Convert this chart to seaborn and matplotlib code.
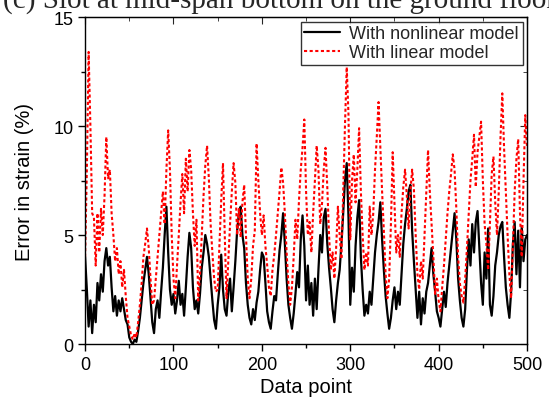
import numpy as np
import pandas as pd
import matplotlib
matplotlib.use("Agg")
import matplotlib.pyplot as plt
import seaborn as sns
from matplotlib.ticker import MultipleLocator

data_point = list(range(0, 501, 2))

nonlinear = [
    4.0, 2.5, 0.8, 2.0, 0.5, 1.8, 1.0, 2.8, 2.0, 3.2, 2.4, 3.8, 4.4, 3.6, 4.0, 2.6, 1.5, 2.2, 1.3, 2.0, 1.5, 2.1, 1.6, 1.1, 0.9,
    0.3, 0.1, 0.0, 0.2, 0.1, 0.6, 1.2, 2.0, 2.8, 3.4, 4.0, 3.2, 2.1, 1.0, 0.5, 1.6, 2.0, 1.2, 2.4, 3.5, 5.0, 6.3, 4.2, 2.5, 1.8,
    2.3, 1.4, 2.0, 2.9, 1.8, 2.3, 1.3, 2.6, 4.0, 5.1, 4.4, 2.6, 1.6, 2.0, 1.4, 2.3, 3.5, 4.2, 5.0, 4.6, 4.0, 3.0, 2.0, 1.1, 0.7,
    1.8, 2.6, 4.1, 2.5, 1.6, 1.3, 2.4, 3.0, 1.5, 2.6, 3.8, 5.2, 6.0, 6.3, 5.0, 4.4, 2.8, 1.8, 1.2, 0.9, 1.6, 1.1, 1.9, 2.4, 3.4,
    4.2, 4.0, 2.8, 1.5, 1.0, 0.7, 1.5, 2.2, 2.0, 3.2, 4.3, 5.0, 6.0, 4.6, 3.0, 1.8, 1.2, 0.7, 1.4, 2.3, 3.3, 2.6, 4.8, 5.9, 4.5,
    2.0, 3.6, 1.8, 2.8, 1.3, 3.0, 1.6, 3.4, 5.0, 4.2, 5.8, 6.2, 4.6, 3.5, 2.6, 1.6, 1.0, 2.0, 2.8, 3.4, 4.6, 6.0, 7.5, 8.3, 5.8,
    1.8, 3.5, 2.4, 4.5, 5.8, 6.6, 4.0, 2.5, 1.3, 1.8, 1.4, 2.4, 1.8, 3.0, 4.2, 5.0, 5.6, 6.5, 4.8, 3.4, 2.2, 1.4, 0.7, 1.2, 2.0,
    2.6, 1.6, 2.4, 1.8, 3.2, 4.6, 5.5, 6.2, 7.0, 7.3, 5.2, 3.8, 2.5, 1.2, 2.4, 0.9, 2.1, 1.4, 2.4, 2.8, 3.6, 4.4, 3.2, 2.4, 1.5,
    1.2, 0.8, 1.6, 2.4, 1.7, 2.8, 3.6, 4.4, 5.2, 6.0, 4.8, 3.0, 2.0, 1.2, 0.8, 1.6, 3.4, 4.8, 3.6, 5.5, 4.2, 5.6, 6.1, 4.5, 2.8,
    1.8, 4.2, 3.0, 5.3, 1.8, 1.3, 2.2, 3.6, 4.2, 5.0, 5.4, 5.6, 4.0, 2.6, 1.8, 1.2, 2.4, 4.6, 5.6, 3.2, 5.2, 2.6, 5.4, 3.8, 4.8,
    5.0,
]

linear = [
    4.0, 8.0, 13.4, 10.0, 6.0, 5.8, 3.6, 6.0, 4.2, 6.2, 5.0, 6.8, 9.5, 7.6, 8.0, 6.0, 5.0, 3.8, 4.4, 3.2, 3.8, 2.6, 3.4, 2.2, 1.2,
    0.8, 0.4, 0.2, 0.5, 0.3, 1.0, 1.8, 2.8, 4.0, 4.6, 5.3, 4.4, 3.0, 1.8, 2.0, 3.0, 4.0, 5.0, 6.0, 7.0, 5.5, 8.0, 9.8, 8.0, 5.0,
    3.0, 2.1, 3.6, 5.0, 6.5, 7.8, 6.0, 8.5, 7.0, 8.9, 8.0, 6.0, 4.5, 5.7, 2.0, 3.2, 5.0, 6.8, 8.2, 9.1, 7.6, 5.5, 4.2, 3.0, 2.4,
    2.5, 4.5, 6.6, 8.3, 5.0, 2.1, 3.8, 5.5, 7.0, 8.3, 7.4, 5.0, 6.2, 4.9, 6.5, 7.3, 5.0, 3.0, 2.1, 3.0, 4.5, 5.2, 9.2, 7.5, 6.0,
    5.0, 5.9, 4.5, 3.6, 2.6, 2.2, 3.4, 4.1, 5.0, 6.0, 7.0, 8.1, 7.4, 6.0, 4.2, 2.8, 1.8, 2.6, 4.0, 5.7, 4.8, 6.6, 8.0, 9.0, 10.3,
    7.0, 5.0, 5.6, 4.2, 6.0, 7.5, 9.1, 8.0, 5.5, 6.4, 8.0, 9.0, 7.2, 5.0, 3.4, 4.2, 3.0, 4.4, 6.3, 5.0, 3.9, 7.0, 10.0, 12.7, 10.5,
    4.8, 7.5, 8.7, 6.5, 8.0, 9.9, 7.0, 5.0, 3.4, 4.2, 3.6, 6.3, 5.0, 6.0, 8.0, 9.5, 11.1, 9.0, 7.0, 5.2, 3.2, 2.1, 3.0, 5.5, 8.8,
    6.5, 4.2, 5.0, 4.0, 6.0, 7.2, 8.0, 6.8, 5.3, 7.0, 8.0, 7.1, 5.0, 3.2, 2.5, 3.8, 3.0, 5.0, 7.0, 8.9, 7.0, 5.5, 4.0, 2.3, 3.0,
    2.0, 1.5, 2.6, 3.6, 4.8, 6.0, 7.0, 7.8, 8.7, 8.0, 6.2, 4.0, 2.8, 2.2, 1.9, 3.0, 4.4, 6.0, 7.5, 8.5, 9.6, 7.2, 8.8, 9.5, 10.2,
    7.5, 5.5, 4.6, 3.4, 5.5, 7.8, 8.6, 6.5, 5.0, 7.0, 9.5, 11.5, 9.0, 7.0, 5.0, 3.2, 2.1, 4.5, 7.0, 8.5, 9.4, 6.0, 4.0, 7.5, 10.5,
    9.0,
]

x_ticks = [0, 100, 200, 300, 400, 500]
y_ticks = [0, 5, 10, 15]

sns.set_style("ticks")
plt.rcParams['font.family'] = ['Liberation Sans', 'DejaVu Sans']

df = pd.DataFrame({"Data point": data_point, "With nonlinear model": nonlinear,
                   "With linear model": linear})

fig = plt.figure(figsize=(5.49, 4.10), dpi=100)
ax = fig.add_axes([0.155, 0.1585, 0.805, 0.7975])

sns.lineplot(data=df, x="Data point", y="With nonlinear model", ax=ax, color="black",
             linewidth=1.6, label="With nonlinear model")
sns.lineplot(data=df, x="Data point", y="With linear model", ax=ax, color="red",
             linewidth=1.5, linestyle=(0, (1.5, 1.2)), label="With linear model")

ax.set_xlim(0, 500)
ax.set_ylim(0, 15)
ax.set_xticks(x_ticks)
ax.set_yticks(y_ticks)
ax.xaxis.set_minor_locator(MultipleLocator(50))
ax.yaxis.set_minor_locator(MultipleLocator(2.5))
ax.set_xlabel("Data point", fontsize=14.5, color="black", labelpad=3)
ax.set_ylabel("Error in strain (%)", fontsize=14.5, color="black", labelpad=14)
ax.tick_params(axis="both", which="major", labelsize=13, direction="out", length=5,
               width=1, color="black", labelcolor="black")
ax.tick_params(axis="both", which="minor", direction="out", length=3, width=1, color="black")
for sp in ax.spines.values():
    sp.set_visible(True)
    sp.set_color("black")
    sp.set_linewidth(1.0)

# mirrored inward ticks on top and right
sec_x = ax.secondary_xaxis("top")
sec_x.set_xticks(x_ticks)
sec_x.xaxis.set_minor_locator(MultipleLocator(50))
sec_x.tick_params(which="both", direction="in", labeltop=False)
sec_x.tick_params(which="major", length=5)
sec_x.tick_params(which="minor", length=3)
sec_y = ax.secondary_yaxis("right")
sec_y.set_yticks(y_ticks)
sec_y.yaxis.set_minor_locator(MultipleLocator(2.5))
sec_y.tick_params(which="both", direction="in", labelright=False)
sec_y.tick_params(which="major", length=5)
sec_y.tick_params(which="minor", length=3)

leg = ax.legend(loc="upper right", fontsize=13, frameon=True, fancybox=False,
                edgecolor="black", handlelength=2.0, handletextpad=0.5, borderpad=0.2,
                labelspacing=0.1, borderaxespad=0.25)
leg.get_frame().set_linewidth(1.0)

fig.text(0.005, 0.978, "(c) Slot at mid-span bottom on the ground floor",
         family=["Liberation Serif", "DejaVu Serif"], fontsize=21, va="baseline", ha="left")

fig.savefig("out.png", dpi=100)
